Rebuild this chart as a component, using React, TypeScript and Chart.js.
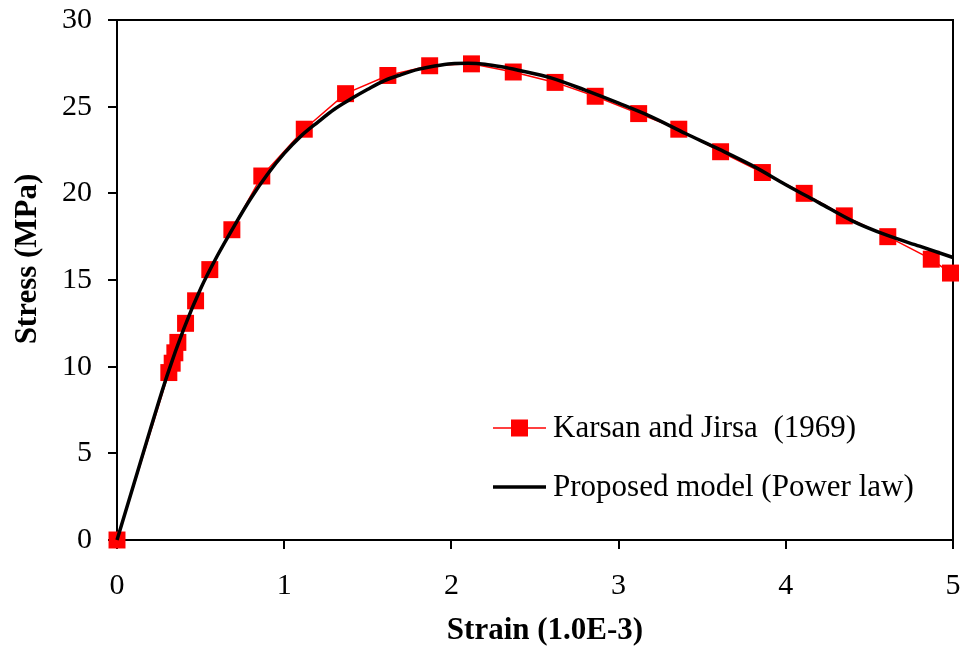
import React, { useEffect, useRef } from "react";
import { Chart, registerables } from "chart.js";

Chart.register(...registerables);

const strainExp = [0, 0.31, 0.33, 0.346, 0.364, 0.41, 0.47, 0.555, 0.687, 0.866, 1.12, 1.367, 1.62, 1.87, 2.12, 2.37, 2.62, 2.86, 3.12, 3.36, 3.61, 3.86, 4.11, 4.35, 4.61, 4.87, 4.985];
const stressExp = [0, 9.66, 10.2, 10.8, 11.4, 12.5, 13.8, 15.6, 17.9, 21.0, 23.7, 25.75, 26.8, 27.36, 27.47, 27.0, 26.4, 25.6, 24.6, 23.7, 22.4, 21.2, 20.0, 18.7, 17.5, 16.2, 15.4];

const strainModel = [0, 0.1, 0.2, 0.3, 0.4, 0.5, 0.6, 0.7, 0.8, 0.9, 1.0, 1.1, 1.2, 1.3, 1.4, 1.5, 1.6, 1.7, 1.8, 1.9, 2.0, 2.1, 2.2, 2.3, 2.4, 2.6, 2.8, 3.0, 3.2, 3.4, 3.6, 3.8, 4.0, 4.2, 4.4, 4.6, 4.8, 5.0];
const stressModel = [0, 3.2, 6.4, 9.5, 12.2, 14.5, 16.4, 18.1, 19.7, 21.1, 22.3, 23.3, 24.1, 24.85, 25.45, 26.0, 26.5, 26.85, 27.15, 27.35, 27.48, 27.5, 27.45, 27.3, 27.1, 26.65, 25.95, 25.2, 24.4, 23.45, 22.55, 21.6, 20.5, 19.45, 18.4, 17.6, 16.95, 16.3];

const expLabel = "Karsan and Jirsa  (1969)";
const modelLabel = "Proposed model (Power law)";
const xTitle = "Strain (1.0E-3)";
const yTitle = "Stress (MPa)";

const SERIF = "'Liberation Serif', 'Times New Roman', serif";

const frameAndLegend = {
  id: "frameAndLegend",
  beforeDatasetsDraw(chart: any) {
    const { ctx, chartArea } = chart;
    ctx.save();
    ctx.strokeStyle = "#000";
    ctx.lineWidth = 2;
    ctx.strokeRect(chartArea.left, chartArea.top, chartArea.right - chartArea.left, chartArea.bottom - chartArea.top);
    ctx.restore();
  },
  afterDraw(chart: any) {
    const { ctx } = chart;
    ctx.save();
    const x0 = 493, x1 = 546, tx = 553;
    const y1 = 428, y2 = 487;
    ctx.strokeStyle = "#ff0000";
    ctx.lineWidth = 1.5;
    ctx.beginPath();
    ctx.moveTo(x0, y1);
    ctx.lineTo(x1, y1);
    ctx.stroke();
    ctx.fillStyle = "#ff0000";
    ctx.fillRect((x0 + x1) / 2 - 8.5, y1 - 8.5, 17, 17);
    ctx.strokeStyle = "#000";
    ctx.lineWidth = 3.5;
    ctx.beginPath();
    ctx.moveTo(x0, y2);
    ctx.lineTo(x1, y2);
    ctx.stroke();
    ctx.fillStyle = "#000";
    ctx.font = `31px ${SERIF}`;
    ctx.textBaseline = "middle";
    ctx.textAlign = "left";
    ctx.fillText(expLabel, tx, y1 + 1);
    ctx.fillText(modelLabel, tx, y2 + 1);

    // axis titles
    ctx.font = `bold 31px ${SERIF}`;
    ctx.textAlign = "center";
    ctx.textBaseline = "middle";
    ctx.fillText(xTitle, 545, 631);
    ctx.translate(28, 259);
    ctx.rotate(-Math.PI / 2);
    ctx.fillText(yTitle, 0, 0);
    ctx.restore();
  },
};

const zeroPad = (s: any) => {
  s.paddingLeft = 0;
  s.paddingRight = 0;
  s.paddingTop = 0;
  s.paddingBottom = 0;
};

export default function App() {
  const ref = useRef<HTMLCanvasElement | null>(null);
  useEffect(() => {
    if (!ref.current) return;
    const chart = new Chart(ref.current, {
      type: "line",
      data: {
        datasets: [
          {
            label: expLabel,
            data: strainExp.map((x, i) => ({ x, y: stressExp[i] })),
            borderColor: "#ff0000",
            backgroundColor: "#ff0000",
            borderWidth: 1.5,
            pointStyle: "rect",
            pointRadius: 12,
            pointBorderWidth: 0,
            pointBackgroundColor: "#ff0000",
            tension: 0,
            clip: false as any,
            order: 2,
          },
          {
            label: modelLabel,
            data: strainModel.map((x, i) => ({ x, y: stressModel[i] })),
            borderColor: "#000",
            backgroundColor: "#000",
            borderWidth: 3.5,
            pointRadius: 0,
            cubicInterpolationMode: "monotone",
            clip: false as any,
            order: 1,
          },
        ],
      },
      options: {
        animation: false,
        responsive: false,
        layout: { padding: { top: 20, right: 13, left: 0, bottom: 0 } },
        plugins: { legend: { display: false }, tooltip: { enabled: false } },
        scales: {
          x: {
            type: "linear",
            min: 0,
            max: 5,
            afterFit: (s: any) => { s.height = 114; zeroPad(s); },
            ticks: { stepSize: 1, color: "#000", font: { family: SERIF, size: 30 }, padding: 19 },
            grid: { display: true, drawOnChartArea: false, drawTicks: true, tickLength: 9, color: "#000", lineWidth: 2 },
            border: { display: false },
            title: { display: false },
          },
          y: {
            type: "linear",
            min: 0,
            max: 30,
            afterFit: (s: any) => { s.width = 117; zeroPad(s); },
            ticks: { stepSize: 5, color: "#000", font: { family: SERIF, size: 30 }, padding: 16 },
            grid: { display: true, drawOnChartArea: false, drawTicks: true, tickLength: 9, color: "#000", lineWidth: 2 },
            border: { display: false },
            title: { display: false },
          },
        },
      },
      plugins: [frameAndLegend],
    });
    return () => chart.destroy();
  }, []);
  return (
    <div style={{ position: "fixed", left: 0, top: 0, width: 966, height: 654, background: "#fff" }}>
      <canvas ref={ref} width={966} height={654} style={{ display: "block" }} />
    </div>
  );
}
